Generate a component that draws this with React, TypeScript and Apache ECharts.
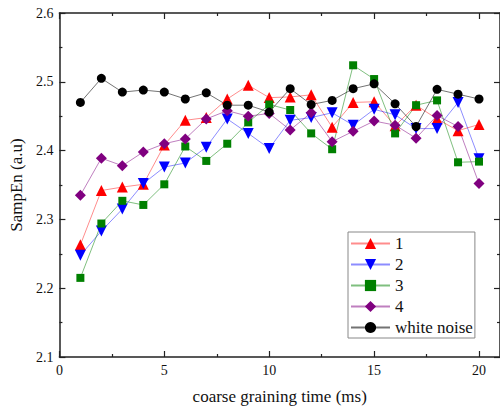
import React, { useEffect, useRef } from "react";
import * as echarts from "echarts";

const xValues = [1, 2, 3, 4, 5, 6, 7, 8, 9, 10, 11, 12, 13, 14, 15, 16, 17, 18, 19, 20];
const series1 = [2.263, 2.342, 2.347, 2.351, 2.408, 2.444, 2.448, 2.475, 2.495, 2.477, 2.478, 2.481, 2.434, 2.470, 2.471, 2.436, 2.466, 2.446, 2.429, 2.438];
const series2 = [2.248, 2.283, 2.315, 2.352, 2.376, 2.382, 2.405, 2.446, 2.425, 2.403, 2.444, 2.448, 2.455, 2.437, 2.460, 2.452, 2.432, 2.432, 2.470, 2.388];
const series3 = [2.215, 2.294, 2.327, 2.321, 2.351, 2.406, 2.385, 2.410, 2.441, 2.467, 2.459, 2.425, 2.402, 2.524, 2.504, 2.425, 2.466, 2.473, 2.383, 2.384];
const series4 = [2.335, 2.389, 2.378, 2.398, 2.410, 2.417, 2.446, 2.458, 2.450, 2.454, 2.430, 2.455, 2.413, 2.428, 2.443, 2.437, 2.418, 2.451, 2.435, 2.352];
const whiteNoise = [2.470, 2.505, 2.485, 2.488, 2.485, 2.475, 2.484, 2.466, 2.466, 2.456, 2.490, 2.467, 2.473, 2.490, 2.497, 2.468, 2.435, 2.489, 2.482, 2.475];
const seriesNames = ["1", "2", "3", "4", "white noise"];

const FONT = '"Times New Roman", "Liberation Serif", "DejaVu Serif", serif';

export default function App() {
  const ref = useRef<HTMLDivElement>(null);
  useEffect(() => {
    if (!ref.current) return;
    const chart = echarts.init(ref.current, undefined, { renderer: "svg" });
    const pair = (ys: number[]) => xValues.map((x, i) => [x, ys[i]]);
    const mk = (
      name: string,
      ys: number[],
      color: string,
      lineColor: string,
      symbol: string,
      size: number
    ) => ({
      name,
      type: "line",
      data: pair(ys),
      symbol,
      symbolSize: size,
      itemStyle: { color, borderWidth: 0 },
      lineStyle: { color: lineColor, width: 1 },
      emphasis: { disabled: true },
    });
    const axisLineStyle = { color: "#222", width: 1.5 };
    const xCommon = {
      type: "value",
      min: 0,
      max: 21,
      interval: 5,
      axisLine: { show: true, onZero: false, lineStyle: axisLineStyle },
      axisTick: { show: true, inside: true, length: 6, lineStyle: { color: "#222", width: 1.2 } },
      minorTick: { show: true, splitNumber: 2, length: 3, lineStyle: { color: "#222", width: 1.2 } },
      splitLine: { show: false },
      minorSplitLine: { show: false },
    };
    const yCommon = {
      type: "value",
      min: 2.1,
      max: 2.6,
      interval: 0.1,
      axisLine: { show: true, onZero: false, lineStyle: axisLineStyle },
      axisTick: { show: true, inside: true, length: 6, lineStyle: { color: "#222", width: 1.2 } },
      minorTick: { show: true, splitNumber: 2, length: 3, lineStyle: { color: "#222", width: 1.2 } },
      splitLine: { show: false },
      minorSplitLine: { show: false },
    };
    chart.setOption({
      animation: false,
      backgroundColor: "#fff",
      textStyle: { fontFamily: FONT },
      grid: { left: 58, top: 13, width: 443, height: 347 },
      legend: {
        orient: "vertical",
        left: 348,
        top: 232,
        itemWidth: 39,
        itemHeight: 14,
        itemGap: 4,
        padding: [3, 2, 2, 2],
        borderColor: "#888",
        borderWidth: 1,
        backgroundColor: "#fff",
        lineStyle: { width: 2 },
        textStyle: { fontFamily: FONT, fontSize: 17, color: "#111" },
        data: seriesNames,
      },
      xAxis: [
        {
          ...xCommon,
          position: "bottom",
          name: "coarse graining time (ms)",
          nameLocation: "middle",
          nameGap: 31,
          nameTextStyle: { fontFamily: FONT, fontSize: 17, color: "#111" },
          axisLabel: {
            show: true,
            margin: 6,
            fontFamily: FONT,
            fontSize: 14,
            color: "#111",
            showMaxLabel: false,
          },
        },
        {
          ...xCommon,
          position: "top",
          axisLabel: { show: false },
        },
      ],
      yAxis: [
        {
          ...yCommon,
          position: "left",
          name: "SampEn (a.u)",
          nameLocation: "middle",
          nameGap: 34,
          nameRotate: 90,
          nameTextStyle: { fontFamily: FONT, fontSize: 17, color: "#111" },
          axisLabel: {
            show: true,
            margin: 6,
            fontFamily: FONT,
            fontSize: 14,
            color: "#111",
            formatter: (v: number) => v.toFixed(1),
          },
        },
        {
          ...yCommon,
          position: "right",
          axisLabel: { show: false },
        },
      ],
      series: [
        mk(seriesNames[0], series1, "#ff0000", "rgba(255,0,0,0.45)", "triangle", 11),
        mk(seriesNames[1], series2, "#0000ff", "rgba(0,0,255,0.45)", "path://M0,0 L10,0 L5,9 Z", 11),
        mk(seriesNames[2], series3, "#008000", "rgba(0,128,0,0.5)", "rect", 8),
        mk(seriesNames[3], series4, "#800080", "rgba(128,0,128,0.5)", "diamond", 11),
        mk(seriesNames[4], whiteNoise, "#000000", "rgba(0,0,0,0.55)", "circle", 9),
      ],
    });
    return () => chart.dispose();
  }, []);
  return (
    <div
      ref={ref}
      style={{ position: "fixed", left: 0, top: 0, width: 500, height: 410 }}
    />
  );
}
